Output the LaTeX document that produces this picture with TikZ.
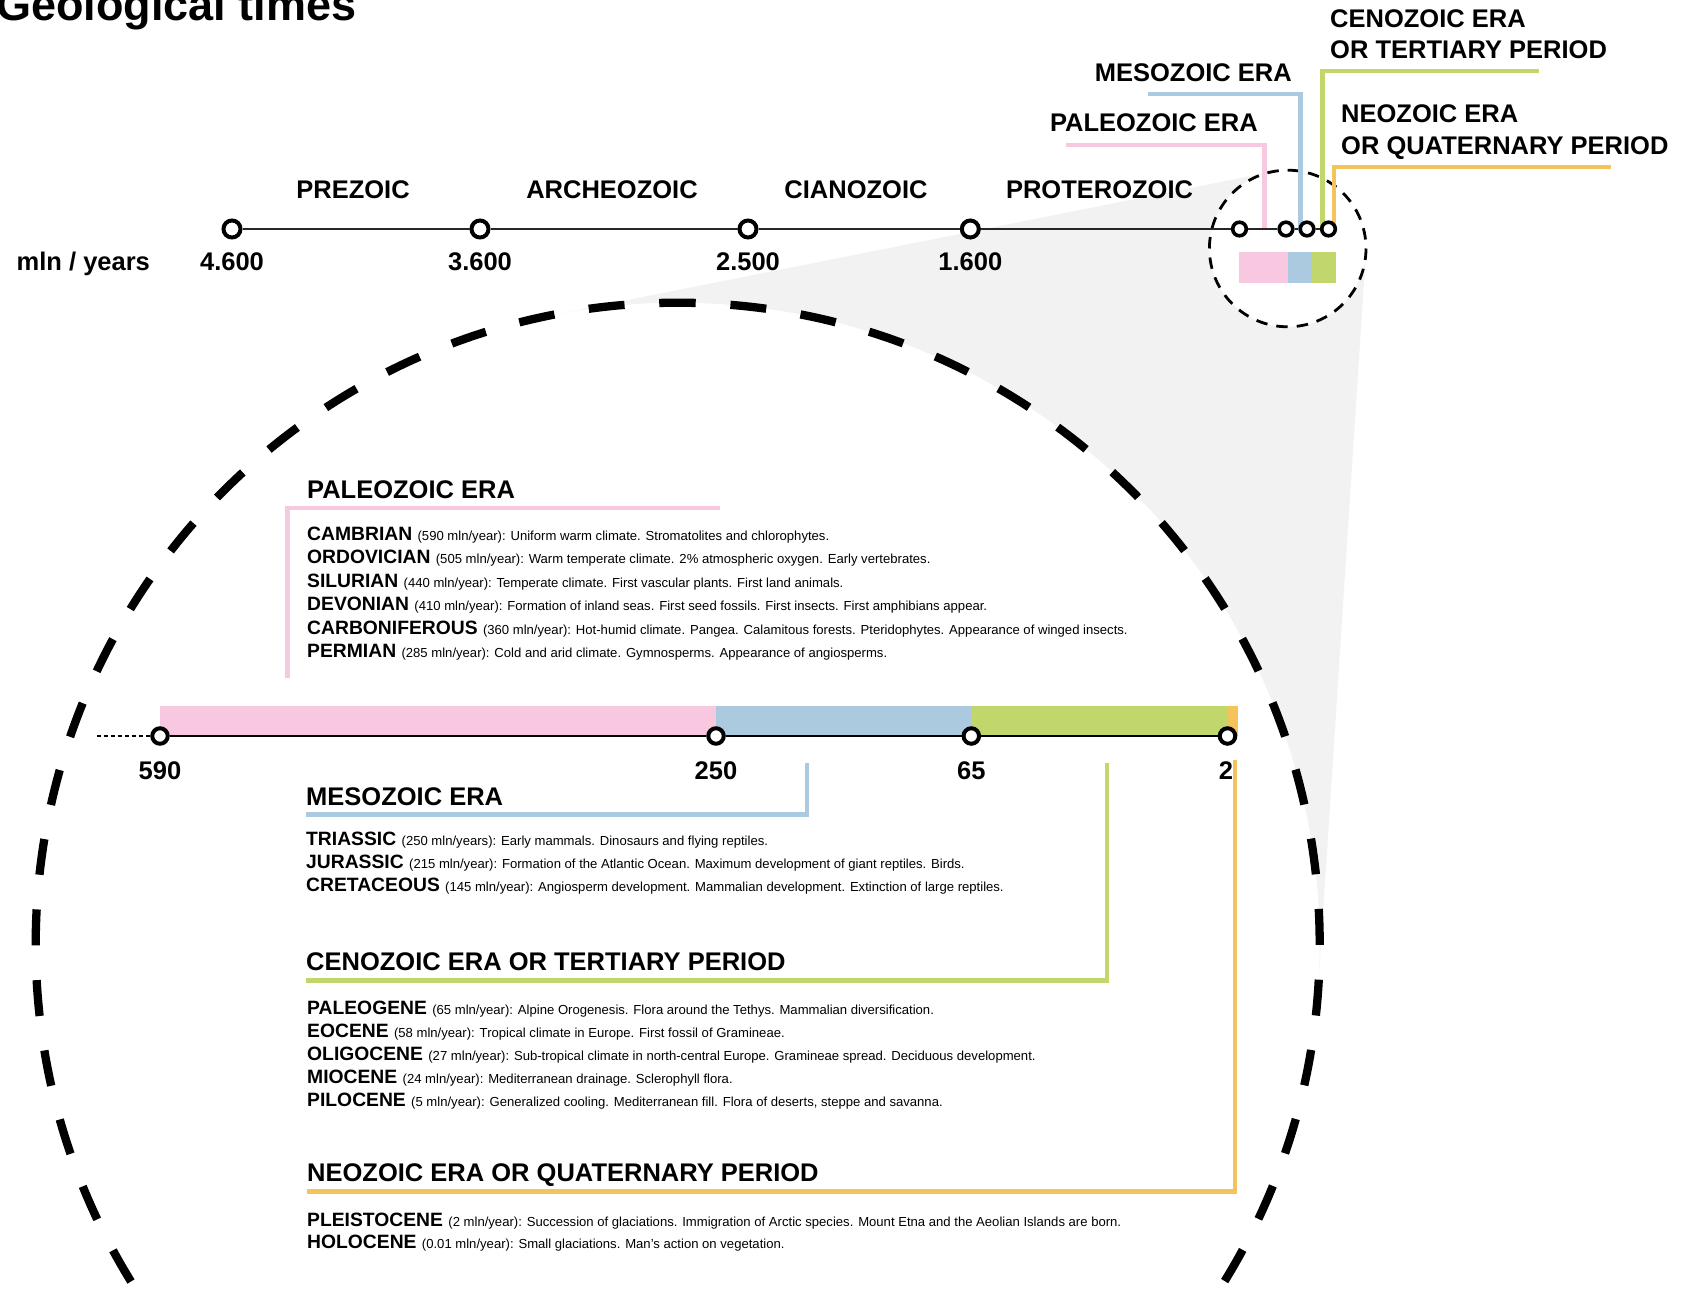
\documentclass[tikz,border=0pt]{standalone}
\usepackage{fontspec}
\setmainfont{Liberation Sans}
\usetikzlibrary{positioning}
\definecolor{paleopink}{RGB}{247,200,223}
\definecolor{mesoblue}{RGB}{171,201,223}
\definecolor{cenogreen}{RGB}{193,214,107}
\definecolor{neoorange}{RGB}{245,195,92}
\definecolor{funnelgray}{RGB}{242,242,242}
\newcommand{\titlefont}{\bfseries\fontsize{45}{50}\selectfont}
\newcommand{\headfont}{\bfseries\fontsize{25.5}{30}\selectfont}
\newcommand{\namefont}{\bfseries\fontsize{19.3}{23}\selectfont}
\newcommand{\descfont}{\fontsize{13.1}{16}\selectfont}
\newcommand{\geoentry}[2]{{\namefont #1\ }{\descfont #2}}
\tikzset{
stop/.style={circle, draw=black, fill=white, line width=4pt, inner sep=0pt, minimum size=17pt}, % circles on the time lines
smallstop/.style={stop, line width=3.6pt, minimum size=13.6pt},
lowstop/.style={stop, minimum size=15.5pt},
head/.style={inner sep=0pt, font=\headfont}, % capital labels and headings
entry/.style={anchor=base west, inner sep=0pt}, % one period per line
leader/.style={line width=4.3pt},
bigring/.style={line width=8.3pt, dash pattern=on 36pt off 34.77pt, dash phase=18pt},
smallring/.style={line width=2.8pt, dash pattern=on 11.5pt off 9pt},
}

\begin{document}
\begin{tikzpicture}[x=1pt, y=-1pt]
      \useasboundingbox (0,0) rectangle (1683,1292);

      % zoom funnel
      \coordinate (bigc) at (677.7,944.7);
      \coordinate (smallc) at (1287.7,248.5);
      \coordinate (bigup) at (552.4,315.0);
      \coordinate (smallup) at (1272.4,171.7);
      \coordinate (smalllow) at (1365.8,253.6);
      \coordinate (biglow) at (1318.3,986.2);
      \fill[funnelgray] (bigup) -- (smallup) -- (smalllow) -- (biglow) -- cycle;
      \fill[white] (bigc) circle[radius=642];
      \fill[white] (smallc) circle[radius=78.3];
      \draw[bigring] (bigc) ++(0,-642) arc[start angle=270, end angle=630, radius=642];
      \draw[smallring] (smallc) ++(0,-78.3) arc[start angle=270, end angle=630, radius=78.3];

      % colour bars
      \fill[paleopink] (1238.5,251.7) rectangle (1288.3,282.7);
      \fill[mesoblue] (1288.3,251.7) rectangle (1311.2,282.7);
      \fill[cenogreen] (1311.2,251.7) rectangle (1335.8,282.7);
      \fill[paleopink] (160,706) rectangle (716,736);
      \fill[mesoblue] (716,706) rectangle (971.3,736);
      \fill[cenogreen] (971.3,706) rectangle (1227.5,736);
      \fill[neoorange] (1227.5,706) rectangle (1238,736);

      % leaders of the upper line
      \coordinate (pinkfoot) at (1264.4,229);
      \coordinate (pinkend) at (1066,145);
      \coordinate (bluefoot) at (1300.5,229);
      \coordinate (blueend) at (1148,94);
      \coordinate (greenfoot) at (1322.5,229);
      \coordinate (greenend) at (1539,70.7);
      \coordinate (orangefoot) at (1334,229);
      \coordinate (orangeend) at (1611,166.7);
      \draw[leader, paleopink] (pinkfoot) |- (pinkend);
      \draw[leader, mesoblue] (bluefoot) |- (blueend);
      \draw[leader, cenogreen] (greenfoot) |- (greenend);
      \draw[leader, neoorange] (orangefoot) |- (orangeend);

      % brackets of the lower line
      \coordinate (paleofoot) at (287.5,678);
      \coordinate (paleoend) at (719.5,508);
      \coordinate (mesofoot) at (807,763);
      \coordinate (mesoend) at (306,814.5);
      \coordinate (cenofoot) at (1107,763);
      \coordinate (cenoend) at (306,980.5);
      \coordinate (neofoot) at (1235,760);
      \coordinate (neoend) at (307,1191.5);
      \draw[leader, paleopink] (paleofoot) |- (paleoend);
      \draw[leader, mesoblue] (mesofoot) |- (mesoend);
      \draw[leader, cenogreen] (cenofoot) |- (cenoend);
      \draw[leader, neoorange] (neofoot) |- (neoend);

      % upper time line
      \node[stop] (t4600) at (232,229) {};
      \node[stop] (t3600) at (480,229) {};
      \node[stop] (t2500) at (748,229) {};
      \node[stop] (t1600) at (970.3,229) {};
      \node[smallstop] (s1) at (1239.5,229) {};
      \node[smallstop] (s2) at (1286,229) {};
      \node[smallstop] (s3) at (1307,229) {};
      \node[smallstop] (s4) at (1328.5,229) {};
      \draw[line width=2pt, black!85] (t4600) edge (t3600)
      (t3600) edge (t2500)
      (t2500) edge (t1600)
      (t1600) edge (s1)
      (s1) edge (s2)
      (s2) edge (s3)
      (s3) edge (s4);

      % lower time line
      \coordinate (lead590) at (96.6,736);
      \node[lowstop] (s590) at (160,736) {};
      \node[lowstop] (s250) at (716,736) {};
      \node[lowstop] (s65) at (971.3,736) {};
      \node[lowstop] (s2m) at (1227.5,736) {};
      \draw[line width=2pt, dash pattern=on 4pt off 3pt] (lead590) -- (s590);
      \draw[line width=2.8pt] (s590) edge (s250)
      (s250) edge (s65)
      (s65) edge (s2m);

      % title and scale labels
      \node[anchor=base west, inner sep=0pt, font=\titlefont] (title) at (-4,21) {Geological times};
      \node[head, anchor=base west] (unit) at (16.5,270.5) {mln / years};
      \node[head, anchor=base] (prezoic) at (353,199) {PREZOIC};
      \node[head, anchor=base] (archeozoic) at (612,199) {ARCHEOZOIC};
      \node[head, anchor=base] (cianozoic) at (856,199) {CIANOZOIC};
      \node[head, anchor=base] (proterozoic) at (1099.5,199) {PROTEROZOIC};
      \node[head, anchor=base] (y4600) at ([yshift=-41.5pt]t4600.center) {4.600};
      \node[head, anchor=base] (y3600) at ([yshift=-41.5pt]t3600.center) {3.600};
      \node[head, anchor=base] (y2500) at ([yshift=-41.5pt]t2500.center) {2.500};
      \node[head, anchor=base] (y1600) at ([yshift=-41.5pt]t1600.center) {1.600};
      \node[head, anchor=base] (y590) at ([yshift=-43pt]s590.center) {590};
      \node[head, anchor=base] (y250) at ([yshift=-43pt]s250.center) {250};
      \node[head, anchor=base] (y65) at ([yshift=-43pt]s65.center) {65};
      \node[head, anchor=base] (y2) at ([yshift=-43pt, xshift=-1.5pt]s2m.center) {2};

      % era names at the top
      \node[head, anchor=base east] (paleotop) at (1258,132) {PALEOZOIC ERA};
      \node[head, anchor=base east] (mesotop) at (1292,82) {MESOZOIC ERA};
      \node[head, anchor=base west] (cenotop) at (1330,27.3) {CENOZOIC ERA};
      \node[head, anchor=base west] (cenotopb) at ([yshift=-31.7pt]cenotop.base west) {OR TERTIARY PERIOD};
      \node[head, anchor=base west] (neotop) at (1341,122.7) {NEOZOIC ERA};
      \node[head, anchor=base west] (neotopb) at ([yshift=-31.7pt]neotop.base west) {OR QUATERNARY PERIOD};

      % paleozoic
      \node[head, anchor=base west] (paleohead) at (307,498.3) {PALEOZOIC ERA};
      \node[entry] (cambrian) at (307,540) {\geoentry{CAMBRIAN}{(590 mln/year): Uniform warm climate. Stromatolites and chlorophytes.}};
      \node[entry] (ordovician) at ([yshift=-23.5pt]cambrian.base west) {\geoentry{ORDOVICIAN}{(505 mln/year): Warm temperate climate. 2\% atmospheric oxygen. Early vertebrates.}};
      \node[entry] (silurian) at ([yshift=-23.5pt]ordovician.base west) {\geoentry{SILURIAN}{(440 mln/year): Temperate climate. First vascular plants. First land animals.}};
      \node[entry] (devonian) at ([yshift=-23.5pt]silurian.base west) {\geoentry{DEVONIAN}{(410 mln/year): Formation of inland seas. First seed fossils. First insects. First amphibians appear.}};
      \node[entry] (carboniferous) at ([yshift=-23.5pt]devonian.base west) {\geoentry{CARBONIFEROUS}{(360 mln/year): Hot-humid climate. Pangea. Calamitous forests. Pteridophytes. Appearance of winged insects.}};
      \node[entry] (permian) at ([yshift=-23.5pt]carboniferous.base west) {\geoentry{PERMIAN}{(285 mln/year): Cold and arid climate. Gymnosperms. Appearance of angiosperms.}};

      % mesozoic
      \node[head, anchor=base west] (mesohead) at (306,805) {MESOZOIC ERA};
      \node[entry] (triassic) at (306,845) {\geoentry{TRIASSIC}{(250 mln/years): Early mammals. Dinosaurs and flying reptiles.}};
      \node[entry] (jurassic) at ([yshift=-23.4pt]triassic.base west) {\geoentry{JURASSIC}{(215 mln/year): Formation of the Atlantic Ocean. Maximum development of giant reptiles. Birds.}};
      \node[entry] (cretaceous) at ([yshift=-23.4pt]jurassic.base west) {\geoentry{CRETACEOUS}{(145 mln/year): Angiosperm development. Mammalian development. Extinction of large reptiles.}};

      % cenozoic
      \node[head, anchor=base west] (cenohead) at (306,970) {CENOZOIC ERA OR TERTIARY PERIOD};
      \node[entry] (paleogene) at (307,1014) {\geoentry{PALEOGENE}{(65 mln/year): Alpine Orogenesis. Flora around the Tethys. Mammalian diversification.}};
      \node[entry] (eocene) at ([yshift=-23.2pt]paleogene.base west) {\geoentry{EOCENE}{(58 mln/year): Tropical climate in Europe. First fossil of Gramineae.}};
      \node[entry] (oligocene) at ([yshift=-23.2pt]eocene.base west) {\geoentry{OLIGOCENE}{(27 mln/year): Sub-tropical climate in north-central Europe. Gramineae spread. Deciduous development.}};
      \node[entry] (miocene) at ([yshift=-23.2pt]oligocene.base west) {\geoentry{MIOCENE}{(24 mln/year): Mediterranean drainage. Sclerophyll flora.}};
      \node[entry] (pilocene) at ([yshift=-23.2pt]miocene.base west) {\geoentry{PILOCENE}{(5 mln/year): Generalized cooling. Mediterranean fill. Flora of deserts, steppe and savanna.}};

      % neozoic
      \node[head, anchor=base west] (neohead) at (307,1181.7) {NEOZOIC ERA OR QUATERNARY PERIOD};
      \node[entry] (pleistocene) at (307,1226) {\geoentry{PLEISTOCENE}{(2 mln/year): Succession of glaciations. Immigration of Arctic species. Mount Etna and the Aeolian Islands are born.}};
      \node[entry] (holocene) at ([yshift=-22.5pt]pleistocene.base west) {\geoentry{HOLOCENE}{(0.01 mln/year): Small glaciations. Man’s action on vegetation.}};
    \end{tikzpicture}
\end{document}
